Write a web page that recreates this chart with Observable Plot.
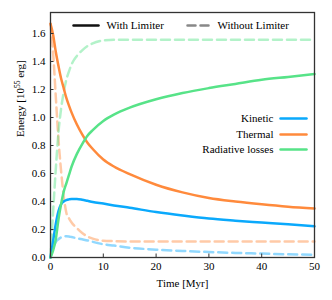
<!DOCTYPE html>
<html>
<head>
<meta charset="utf-8">
<script src="https://cdn.jsdelivr.net/npm/d3@7"></script>
<script src="https://cdn.jsdelivr.net/npm/@observablehq/plot@0.6"></script>
<style>
  html, body { margin: 0; padding: 0; background: #fff; }
</style>
</head>
<body>
<div id="chart"></div>
<script>
// ---- data ----
const time = [0, 0.5, 1, 1.5, 2, 2.5, 3, 3.5, 4, 5, 6, 7, 8, 10, 12, 15, 20, 25, 30, 35, 40, 45, 50];

const kineticWith    = [0, 0.12, 0.24, 0.33, 0.38, 0.40, 0.41, 0.415, 0.418, 0.418, 0.413, 0.405, 0.397, 0.385, 0.372, 0.355, 0.325, 0.30, 0.278, 0.263, 0.25, 0.237, 0.224];
const thermalWith    = [1.67, 1.59, 1.47, 1.37, 1.28, 1.21, 1.14, 1.085, 1.035, 0.95, 0.88, 0.82, 0.775, 0.70, 0.65, 0.595, 0.52, 0.465, 0.425, 0.40, 0.38, 0.363, 0.35];
const radiativeWith  = [0, 0.05, 0.13, 0.27, 0.38, 0.47, 0.53, 0.59, 0.65, 0.74, 0.81, 0.87, 0.91, 0.975, 1.02, 1.07, 1.13, 1.175, 1.21, 1.24, 1.27, 1.29, 1.31];

const kineticWithout   = [0, 0.07, 0.11, 0.13, 0.143, 0.15, 0.152, 0.15, 0.146, 0.138, 0.13, 0.122, 0.112, 0.095, 0.085, 0.07, 0.056, 0.047, 0.039, 0.033, 0.028, 0.023, 0.02];
const thermalWithout   = [1.67, 1.46, 1.15, 0.85, 0.62, 0.44, 0.32, 0.28, 0.25, 0.21, 0.175, 0.15, 0.135, 0.12, 0.117, 0.115, 0.115, 0.115, 0.115, 0.115, 0.115, 0.115, 0.115];
const radiativeWithout = [0, 0.33, 0.63, 0.89, 1.06, 1.18, 1.27, 1.33, 1.38, 1.44, 1.48, 1.51, 1.53, 1.55, 1.555, 1.555, 1.555, 1.555, 1.555, 1.555, 1.555, 1.555, 1.555];

const componentNames = ["Kinetic", "Thermal", "Radiative losses"];
const limiterNames = ["With Limiter", "Without Limiter"];
const xTicks = [0, 10, 20, 30, 40, 50];
const yTicks = [0, 0.2, 0.4, 0.6, 0.8, 1.0, 1.2, 1.4, 1.6];
const xLabel = "Time [Myr]";
const yLabel = "Energy [10^55 erg]";

// ---- styling ----
const colors = {"Kinetic": "#0aa9fc", "Thermal": "#ff8a3c", "Radiative losses": "#57e388"};

function rows(values, component, limiter) {
  return time.map((t, i) => ({t, e: values[i], component, limiter}));
}
const withRows = [
  ...rows(kineticWith, "Kinetic", "With Limiter"),
  ...rows(thermalWith, "Thermal", "With Limiter"),
  ...rows(radiativeWith, "Radiative losses", "With Limiter")
];
const withoutRows = [
  ...rows(kineticWithout, "Kinetic", "Without Limiter"),
  ...rows(thermalWithout, "Thermal", "Without Limiter"),
  ...rows(radiativeWithout, "Radiative losses", "Without Limiter")
];

const hLine = {draw(ctx, l) { ctx.moveTo(0, 0); ctx.lineTo(0, -l); }};
const font = "Liberation Serif, Times New Roman, serif";

const legendMarks = [];
// top legend (line style)
legendMarks.push(Plot.vector([0], {frameAnchor: "top-left", dx: 23, dy: 13, length: 25, rotate: 90, anchor: "start", shape: hLine, stroke: "#111", strokeWidth: 2.5}));
legendMarks.push(Plot.text([limiterNames[0]], {frameAnchor: "top-left", dx: 56, dy: 13, text: d => d, textAnchor: "start", lineAnchor: "middle", fill: "#000"}));
legendMarks.push(Plot.vector([0], {frameAnchor: "top-left", dx: 137, dy: 13, length: 21, rotate: 90, anchor: "start", shape: hLine, stroke: "#888", strokeWidth: 2.5, strokeDasharray: "8,5"}));
legendMarks.push(Plot.text([limiterNames[1]], {frameAnchor: "top-left", dx: 167, dy: 13, text: d => d, textAnchor: "start", lineAnchor: "middle", fill: "#000"}));
// component legend
const legendDy = [106, 122, 137];
componentNames.forEach((name, i) => {
  legendMarks.push(Plot.vector([0], {frameAnchor: "top-right", dx: -34, dy: legendDy[i], length: 26, rotate: 90, anchor: "start", shape: hLine, stroke: colors[name], strokeWidth: 2.5}));
  legendMarks.push(Plot.text([name], {frameAnchor: "top-right", dx: -41, dy: legendDy[i], text: d => d, textAnchor: "end", lineAnchor: "middle", fill: "#000"}));
});

const chart = Plot.plot({
  width: 332,
  height: 300,
  marginLeft: 50,
  marginRight: 18,
  marginTop: 12,
  marginBottom: 43,
  style: {fontFamily: font, fontSize: "11px", color: "#000", background: "#fff"},
  x: {domain: [0, 50]},
  y: {domain: [0, 1.75]},
  color: {domain: componentNames, range: componentNames.map(n => colors[n])},
  marks: [
    Plot.line(withoutRows, {x: "t", y: "e", z: "component", stroke: "component", strokeWidth: 2.5, strokeOpacity: 0.45, strokeDasharray: "9,5", curve: "monotone-x"}),
    Plot.line(withRows, {x: "t", y: "e", z: "component", stroke: "component", strokeWidth: 2.5, curve: "monotone-x"}),
    Plot.axisX({ticks: xTicks, tickSize: -3.5, tickPadding: 8.5, tickFormat: d3.format("d"), label: null, stroke: "#333"}),
    Plot.axisY({ticks: yTicks, tickSize: -3.5, tickPadding: 8.5, tickFormat: d3.format(".1f"), label: null, stroke: "#333"}),
    Plot.frame({stroke: "#333", strokeWidth: 1.3}),
    Plot.text([xLabel], {frameAnchor: "bottom", dy: 25.5, text: d => d, lineAnchor: "middle", fill: "#000"}),
    Plot.text([yLabel], {frameAnchor: "left", dx: -30, dy: 2, rotate: -90, text: d => d, lineAnchor: "middle", fill: "#000"}),
    ...legendMarks
  ]
});

// superscript in the y label
chart.querySelectorAll("text").forEach(t => {
  if (t.textContent === yLabel) {
    const tspans = t.querySelectorAll("tspan");
    const target = tspans.length ? tspans[0] : t;
    const ns = "http://www.w3.org/2000/svg";
    const [pre, rest] = yLabel.split("^");
    const exp = rest.slice(0, 2), post = rest.slice(2);
    target.textContent = pre;
    const sup = document.createElementNS(ns, "tspan");
    sup.setAttribute("dy", "-4");
    sup.setAttribute("font-size", "7.5px");
    sup.textContent = exp;
    const after = document.createElementNS(ns, "tspan");
    after.setAttribute("dy", "4");
    after.textContent = post;
    target.appendChild(sup);
    target.appendChild(after);
  }
});

document.getElementById("chart").appendChild(chart);
</script>
</body>
</html>
